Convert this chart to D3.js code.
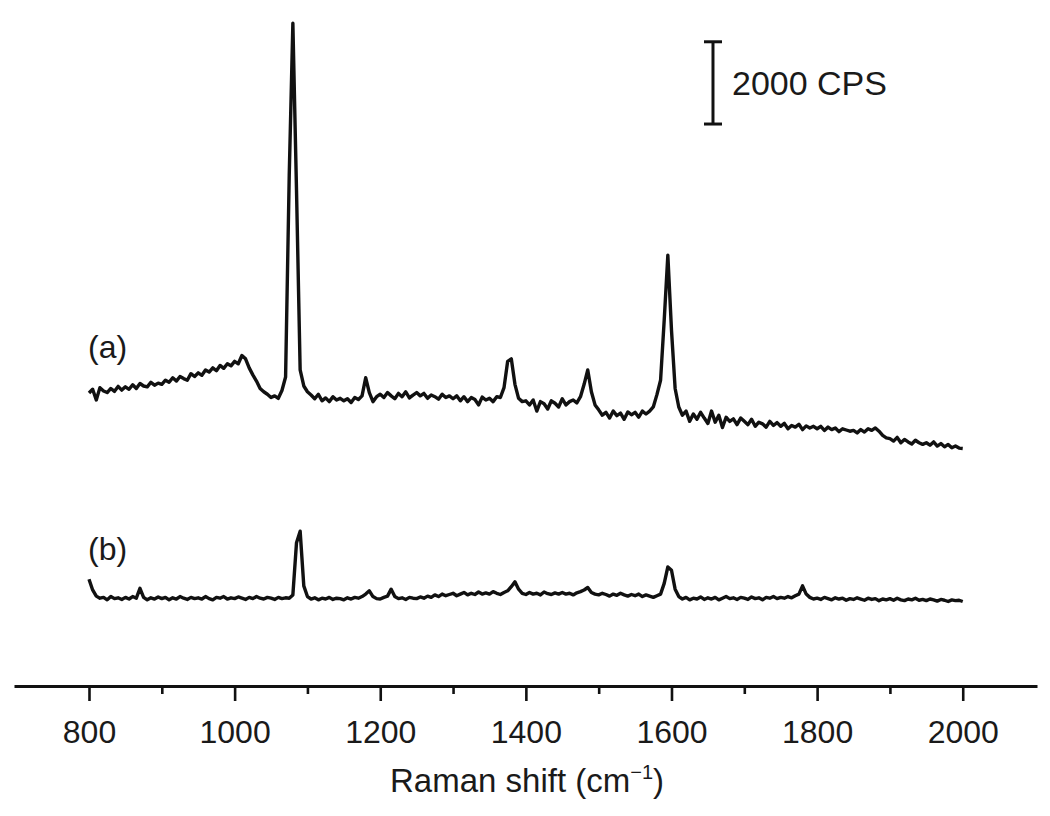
<!DOCTYPE html>
<html>
<head>
<meta charset="utf-8">
<script src="https://cdn.jsdelivr.net/npm/d3@7"></script>
<style>
  html, body { margin: 0; padding: 0; background: #fff; }
  svg { display: block; }
  text { font-family: "Liberation Sans", Arial, Helvetica, sans-serif; fill: #1a1a1a; }
</style>
</head>
<body>
<svg id="chart" width="1050" height="816"></svg>
<script>
// Raman shift (cm-1), sampled every 5 cm-1 from 800 to 2000
const shift = d3.range(800, 2000.1, 5);

// Spectrum (a), intensity in CPS
const spectrumA = [
  6590, 6680, 6420, 6720, 6640, 6600, 6700, 6630, 6750, 6660,
  6740, 6680, 6790, 6700, 6820, 6760, 6740, 6850, 6780, 6830,
  6800, 6900, 6850, 6960, 6880, 6990, 6940, 6900, 7060, 6990,
  7080, 7020, 7150, 7100, 7200, 7130, 7260, 7190, 7300, 7250,
  7360, 7300, 7500, 7420, 7200, 7030, 6880, 6700, 6620, 6560,
  6480, 6520, 6460, 6650, 6980, 11880, 15580, 11520, 7150, 6760,
  6620, 6540, 6450, 6560, 6400, 6470, 6380, 6500, 6420, 6460,
  6400, 6450, 6360, 6480, 6430, 6520, 6960, 6600, 6380, 6500,
  6560, 6480, 6600, 6520, 6450, 6580, 6500, 6620, 6470, 6540,
  6600, 6520, 6580, 6460, 6540, 6500, 6440, 6560, 6480, 6520,
  6450, 6520, 6400, 6500, 6380, 6480, 6430, 6300, 6490, 6420,
  6460, 6380, 6500, 6480, 6720, 7360, 7420, 6800, 6460, 6380,
  6400, 6300, 6420, 6150, 6380, 6330, 6200, 6400, 6340, 6250,
  6450, 6300, 6380, 6420, 6350, 6500, 6800, 7150, 6620, 6300,
  6180, 6050, 6120, 5980, 6150, 6040, 6100, 5950, 6130, 6060,
  6120, 6000, 6150, 6080, 6150, 6250, 6550, 6900, 8360, 9940,
  8120, 6700, 6250, 6050, 6150, 5900, 6080, 5950, 6120, 5980,
  5850, 6150, 5880, 6050, 5750, 6000, 5900, 5960, 5820, 5980,
  5900, 5820, 5950, 5780, 5880, 5840, 5760, 5900, 5800, 5870,
  5780, 5850, 5720, 5800, 5760, 5830, 5700, 5790, 5740, 5780,
  5720, 5780, 5680, 5760, 5700, 5740, 5650, 5720, 5690, 5660,
  5680, 5620, 5700, 5640, 5720, 5680, 5740, 5660, 5560, 5500,
  5480, 5420, 5510, 5380, 5460, 5400, 5350, 5440, 5380, 5340,
  5380, 5320, 5400, 5300, 5360, 5280, 5340, 5260, 5300, 5250,
  5240
];

// Spectrum (b), intensity in CPS
const spectrumB = [
  2060, 1800, 1650, 1600, 1620, 1560, 1640, 1590, 1610, 1570,
  1620, 1580, 1640, 1600, 1840, 1620, 1560, 1610, 1580, 1630,
  1590, 1620, 1560, 1610, 1580, 1640, 1600, 1570, 1620, 1590,
  1610, 1580, 1640, 1590, 1560, 1620, 1600, 1640, 1580, 1610,
  1590, 1630, 1600, 1570, 1620, 1590, 1640, 1600, 1580, 1620,
  1600, 1570, 1620, 1590, 1610, 1600, 1680, 2950, 3230, 1900,
  1640, 1580, 1610, 1560, 1600, 1580, 1620, 1570, 1600, 1590,
  1560, 1610, 1580, 1620, 1600, 1640, 1700, 1780, 1640, 1590,
  1580, 1620, 1650, 1820, 1640, 1590, 1610, 1570, 1620, 1600,
  1590, 1630, 1600, 1650, 1620, 1680, 1640, 1700, 1660, 1690,
  1720, 1660, 1700, 1740, 1680, 1720, 1690, 1750, 1700, 1730,
  1700, 1760, 1720, 1690, 1740, 1780, 1880, 2000, 1820, 1720,
  1690, 1740, 1700, 1720, 1680, 1750, 1710, 1690, 1730, 1700,
  1740, 1700, 1720, 1680, 1730, 1760, 1800, 1860, 1740, 1700,
  1680, 1720, 1690, 1650, 1700, 1670, 1720, 1680, 1650, 1690,
  1660, 1700, 1640, 1680, 1650, 1620, 1660, 1700, 1960, 2360,
  2280, 1820, 1640, 1580, 1620, 1560, 1600, 1580, 1630, 1570,
  1610, 1580, 1620, 1560, 1600, 1640, 1590, 1610, 1570, 1620,
  1600, 1570, 1630, 1590, 1610, 1560, 1620, 1600, 1640, 1590,
  1620, 1600, 1640, 1610, 1660, 1700, 1900, 1700, 1620, 1580,
  1600, 1570, 1620, 1590, 1560, 1610, 1580, 1600, 1550, 1590,
  1570, 1610, 1580, 1550, 1600, 1570, 1590, 1540, 1580, 1560,
  1590, 1550, 1600, 1560, 1540, 1580, 1560, 1600, 1550, 1570,
  1540, 1580, 1560, 1530, 1570, 1550, 1520, 1560, 1540, 1550,
  1520
];

const majorTicks = [800, 1000, 1200, 1400, 1600, 1800, 2000];
const minorTicks = [900, 1100, 1300, 1500, 1700, 1900];
const seriesLabels = ["(a)", "(b)"];
const scaleBar = { base: 13130, size: 2000, at: 1657, label: "2000 CPS" };
const xTitle = "Raman shift (cm";

const svg = d3.select("#chart");

const x = d3.scaleLinear().domain([697, 2102]).range([14, 1037]);
const y = d3.scaleLinear().domain([0, 16000]).range([664, 6]);

const line = d3.line()
  .x((d, i) => x(shift[i]))
  .y(d => y(d))
  .curve(d3.curveLinear);

[spectrumA, spectrumB].forEach(s => {
  svg.append("path")
    .datum(s)
    .attr("d", line)
    .attr("fill", "none")
    .attr("stroke", "#111")
    .attr("stroke-width", 3.4)
    .attr("stroke-linejoin", "round");
});

// Series labels
const labelPos = [{ v: 800, c: 7450 }, { v: 800, c: 2530 }];
seriesLabels.forEach((t, i) => {
  svg.append("text")
    .attr("x", x(labelPos[i].v) - 1)
    .attr("y", y(labelPos[i].c))
    .attr("font-size", 32)
    .text(t);
});

// X axis
const axisY = 686;
const gx = svg.append("g").attr("transform", `translate(0,${axisY})`);
gx.call(d3.axisBottom(x).tickValues(majorTicks).tickSize(15).tickSizeOuter(0).tickFormat(d3.format("d")));
gx.select(".domain").attr("stroke", "#111").attr("stroke-width", 3.2);
gx.selectAll(".tick line").attr("stroke", "#111").attr("stroke-width", 2.6);
gx.selectAll(".tick text")
  .attr("y", 57).attr("dy", null)
  .attr("font-size", 32)
  .attr("font-family", "'Liberation Sans', Arial, sans-serif")
  .attr("fill", "#1a1a1a");

const gm = svg.append("g").attr("transform", `translate(0,${axisY})`);
gm.call(d3.axisBottom(x).tickValues(minorTicks).tickSize(8).tickSizeOuter(0).tickFormat(""));
gm.select(".domain").remove();
gm.selectAll(".tick line").attr("stroke", "#111").attr("stroke-width", 2.6);

// Axis title
const title = svg.append("text")
  .attr("x", 527).attr("y", 792)
  .attr("text-anchor", "middle")
  .attr("font-size", 33);
title.append("tspan").text(xTitle);
title.append("tspan").attr("font-size", 20).attr("dy", -13).text("\u22121");
title.append("tspan").attr("dy", 13).text(")");

// Scale bar
const sbx = x(scaleBar.at);
const sy0 = y(scaleBar.base), sy1 = y(scaleBar.base + scaleBar.size);
const sb = svg.append("g").attr("stroke", "#111").attr("stroke-width", 3);
sb.append("line").attr("x1", sbx).attr("x2", sbx).attr("y1", sy0).attr("y2", sy1);
sb.append("line").attr("x1", sbx - 9).attr("x2", sbx + 9).attr("y1", sy0).attr("y2", sy0);
sb.append("line").attr("x1", sbx - 9).attr("x2", sbx + 9).attr("y1", sy1).attr("y2", sy1);
svg.append("text")
  .attr("x", sbx + 19)
  .attr("y", (sy0 + sy1) / 2 + 12)
  .attr("font-size", 34)
  .text(scaleBar.label);
</script>
</body>
</html>
